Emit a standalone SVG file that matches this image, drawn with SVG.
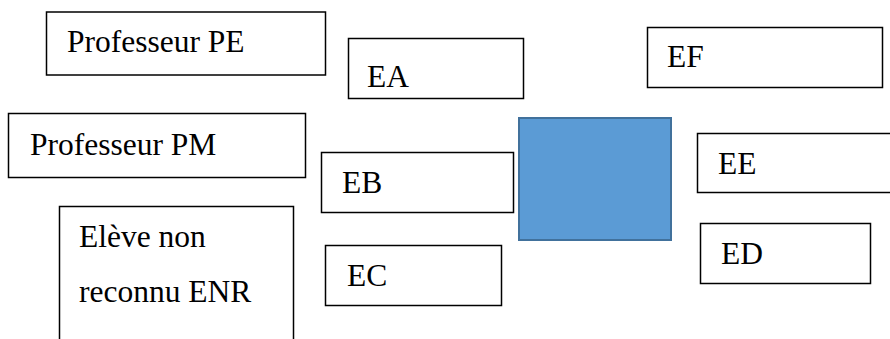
<svg xmlns="http://www.w3.org/2000/svg" width="890" height="339" viewBox="0 0 890 339">
<style>
.box{fill:#fff;stroke:#000;stroke-width:1.5}
.blue{fill:#5B9BD5;stroke:#41719C;stroke-width:2}
</style>
<rect width="890" height="339" fill="#fff"/>
<g id="connectors"></g>
<g font-family="Liberation Serif, Times New Roman, serif" font-size="31.5" fill="#000">
<g id="prof-pe"><rect class="box" x="46.5" y="12" width="279" height="63"/><text x="67" y="52">Professeur PE</text></g>
<g id="ea"><rect class="box" x="348.5" y="38.5" width="175" height="60"/><text x="367" y="87">EA</text></g>
<g id="ef"><rect class="box" x="647.5" y="27.5" width="235" height="60"/><text x="667" y="67">EF</text></g>
<g id="prof-pm"><rect class="box" x="8.5" y="113.5" width="297" height="64"/><text x="30" y="155">Professeur PM</text></g>
<g id="center"><rect class="blue" x="519" y="118" width="152" height="122"/></g>
<g id="eb"><rect class="box" x="321.5" y="152.5" width="192" height="60"/><text x="342" y="193">EB</text></g>
<g id="ee"><rect class="box" x="697.5" y="133.5" width="200" height="59"/><text x="718" y="174">EE</text></g>
<g id="enr"><rect class="box" x="59.5" y="206.5" width="234" height="140"/><text x="79" y="247">Elève non</text><text x="79" y="302">reconnu ENR</text></g>
<g id="ec"><rect class="box" x="325.5" y="245.5" width="176" height="60"/><text x="347" y="286">EC</text></g>
<g id="ed"><rect class="box" x="700.5" y="223.5" width="170" height="60"/><text x="721" y="264">ED</text></g>
</g>
</svg>
